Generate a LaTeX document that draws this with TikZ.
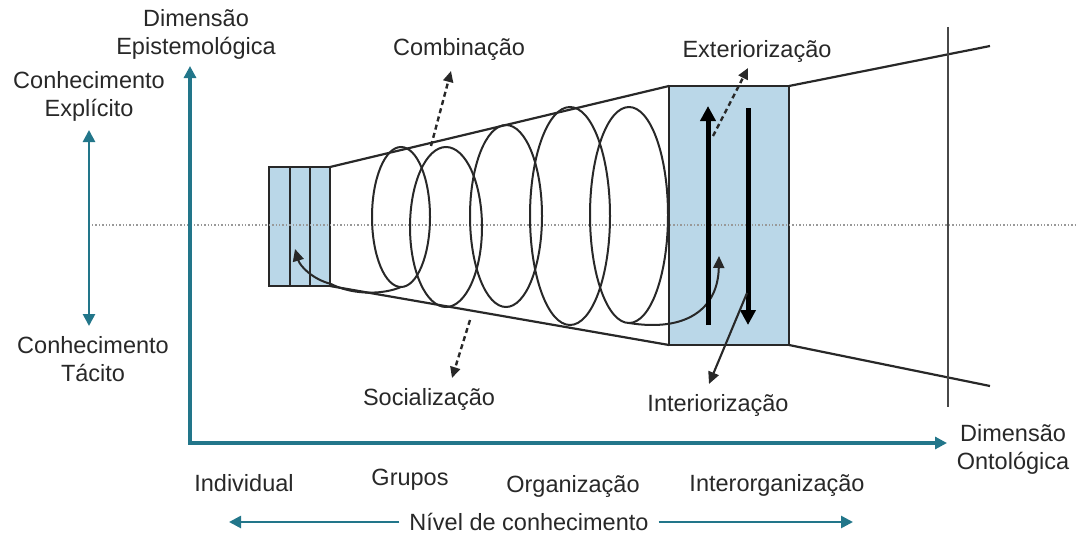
\documentclass[tikz,border=0pt]{standalone}
\usepackage{fontspec}
\setmainfont{Liberation Sans}
\usetikzlibrary{arrows.meta}
\definecolor{teal1}{RGB}{34,118,138}
\definecolor{boxfill}{RGB}{186,215,232}
\definecolor{ink}{RGB}{40,40,40}
\tikzset{
  lbl/.style={font=\fontsize{23.5}{28}\selectfont, text=ink, align=center, inner sep=0pt},
  tealarrow/.style={draw=teal1, line width=3.8pt, -{Triangle[length=12pt,width=12pt]}},
  tealdouble/.style={draw=teal1, line width=2.6pt, {Triangle[length=12pt,width=12pt]}-{Triangle[length=12pt,width=12pt]}},
  conel/.style={draw=ink, line width=2.2pt},
  boxst/.style={draw=ink, fill=boxfill, line width=2.5pt},
  loop/.style={draw=ink, line width=2pt},
  dasharr/.style={draw=ink, line width=2.4pt, dash pattern=on 5pt off 3.5pt, -{Triangle[length=11pt,width=10pt]}},
  thickarr/.style={draw=black, line width=5pt, -{Triangle[length=15pt,width=15pt]}},
  thinarr/.style={draw=ink, line width=2.1pt, -{Triangle[length=12pt,width=11pt]}},
}
\begin{document}
\begin{tikzpicture}[x=1pt,y=-1pt]
\useasboundingbox (0,0) rectangle (1078,535);
% boxes
\draw[boxst] (269,167) rectangle (330,286);
\draw[ink, line width=2.5pt] (290,167) -- (290,286) (310,167) -- (310,286);
\draw[boxst] (669,86) rectangle (789,345);
% midline
\draw[gray!80, line width=1.4pt, dotted] (92,225) -- (1075,225);
% cone
\coordinate (sbTR) at (330,167);
\coordinate (sbBR) at (330,286);
\coordinate (bbTL) at (669,86);
\coordinate (bbBL) at (669,345);
\coordinate (bbTR) at (789,86);
\coordinate (bbBR) at (789,345);
\coordinate (endT) at (990,46);
\coordinate (endB) at (990,386);
\draw[conel] (sbTR) -- (bbTL);
\draw[conel] (sbBR) -- (bbBL);
\draw[conel] (bbTR) -- (endT);
\draw[conel] (bbBR) -- (endB);
% vertical boundary line
\coordinate (vT) at (948,27);
\coordinate (vB) at (948,407);
\draw[ink!85, line width=2.1pt] (vT) -- (vB);
% ellipses (spiral)
\draw[loop] (401,217) ellipse [x radius=29pt, y radius=70pt];
\draw[loop] (446,227) ellipse [x radius=36pt, y radius=80pt];
\draw[loop] (506,216) ellipse [x radius=36pt, y radius=91pt];
\draw[loop] (570,216) ellipse [x radius=40pt, y radius=109pt];
\draw[loop] (629,215) ellipse [x radius=39pt, y radius=108pt];
\coordinate (e1B) at (401,287);
\coordinate (e5B) at (629,323);
\coordinate (spS) at (331,284);
\coordinate (spL) at (295,249);
\coordinate (spR) at (719,256);
\draw[loop] (spS) .. controls (355,296) and (385,294) .. (e1B);
\draw[thinarr, line width=2pt] (spS) .. controls (312,279) and (300,266) .. (spL);
\draw[thinarr, line width=2pt] (e5B) .. controls (685,332) and (718,310) .. (spR);
% thick arrows in big box
\coordinate (uA) at (708,325);
\coordinate (uB) at (708,106);
\coordinate (dA) at (748,108);
\coordinate (dB) at (748,325);
\draw[thickarr] (uA) -- (uB);
\draw[thickarr] (dA) -- (dB);
% axes
\coordinate (origin) at (190,443);
\coordinate (yTip) at (190,66);
\coordinate (xTip) at (947,443);
\draw[tealarrow] (origin) -- (yTip);
\draw[tealarrow] ([xshift=-1.9pt]origin) -- (xTip);
% left double arrow
\coordinate (lT) at (89,130);
\coordinate (lB) at (89,326);
\draw[tealdouble] (lB) -- (lT);
% labels
\node[lbl] (dimep) at (196,34) {Dimensão\\Epistemológica};
\node[lbl] (cexp) at (89,96) {Conhecimento\\Explícito};
\node[lbl] (ctac) at (93,359) {Conhecimento\\Tácito};
\node[lbl] (dimon) at (1013,449) {Dimensão\\Ontológica};
\node[lbl] (comb) at (459,49) {Combinação};
\node[lbl] (soc) at (429,399) {Socialização};
\node[lbl] (ext) at (757,51) {Exteriorização};
\node[lbl] (int) at (718,405) {Interiorização};
\node[lbl] (ind) at (244,483) {Individual};
\node[lbl] (gru) at (410,480) {Grupos};
\node[lbl] (org) at (573,486) {Organização};
\node[lbl] (inter) at (777,485) {Interorganização};
\node[lbl] (niv) at (529,522) {Nível de conhecimento};
% dashed arrows
\coordinate (cS) at (431,146);
\coordinate (sS) at (470,320);
\coordinate (xS) at (713,136);
\coordinate (iS) at (747,293);
\draw[dasharr] (cS) -- (451,71);
\draw[dasharr] (sS) -- (452,378);
\draw[dasharr] (xS) -- (748,68);
\draw[thinarr] (iS) -- (709,384);
% bottom arrows
\draw[tealarrow, line width=2.6pt] (niv.west) ++(-10,0) -- (229,522);
\draw[tealarrow, line width=2.6pt] (niv.east) ++(10,0) -- (853,522);
\end{tikzpicture}
\end{document}
